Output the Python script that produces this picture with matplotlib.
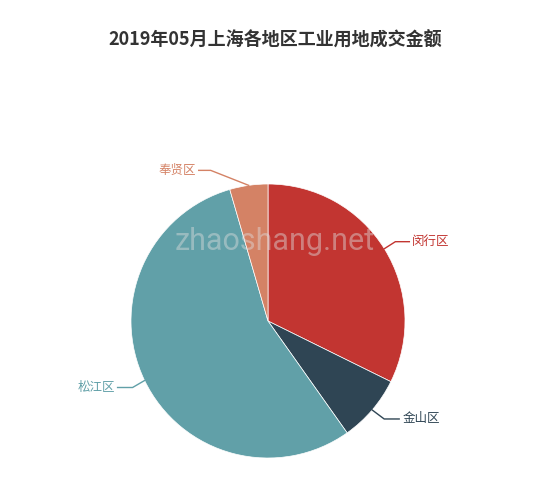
import numpy as np
import matplotlib
matplotlib.use('Agg')
import matplotlib.pyplot as plt

plt.rcParams['font.family'] = ['Noto Sans CJK SC', 'DejaVu Sans']

# Data
districts = ['闵行区', '金山区', '松江区', '奉贤区']
shares = [32.3, 7.9, 55.3, 4.5]
colors = ['#c23531', '#2f4554', '#61a0a8', '#d48265']

W, H = 550, 490
cx, cy, r = 268, H - 321, 137

fig = plt.figure(figsize=(W / 100, H / 100), dpi=100)
ax = fig.add_axes([0, 0, 1, 1])

wedges, _ = ax.pie(shares, colors=colors, startangle=90, counterclock=False,
                   center=(cx, cy), radius=r, frame=True,
                   wedgeprops={'edgecolor': 'white', 'linewidth': 0.5})
ax.set_xlim(0, W)
ax.set_ylim(0, H)
ax.set_aspect('equal')
ax.axis('off')

# label layout: (elbow offset dx, dy in px, horizontal length, side)
layout = {
    '闵行区': (11, 7, 14, 1),
    '金山区': (12, -9, 15, 1),
    '松江区': (-12, -7, 15, -1),
    '奉贤区': (-38, 15, 12, -1),
}
for w, name, c in zip(wedges, districts, colors):
    mid = np.deg2rad((w.theta1 + w.theta2) / 2)
    x0, y0 = cx + r * np.cos(mid), cy + r * np.sin(mid)
    dx, dy, l2, side = layout[name]
    x1, y1 = x0 + dx, y0 + dy
    x2 = x1 + side * l2
    ax.plot([x0, x1, x2], [y0, y1, y1], color=c, lw=1)
    ax.text(x2 + side * 3, y1, name, color=c, fontsize=9,
            ha='left' if side > 0 else 'right', va='center')

ax.text(W / 2, H - 40, '2019年05月上海各地区工业用地成交金额', ha='center', va='center',
        fontsize=13, fontweight='bold', color='#333333')

# watermark
ax.text(275, H - 242, 'zhaoshang.net', ha='center', va='center', fontsize=22,
        family='Roboto', color='#dddddd', alpha=0.45)

fig.savefig('out.png', dpi=100)
